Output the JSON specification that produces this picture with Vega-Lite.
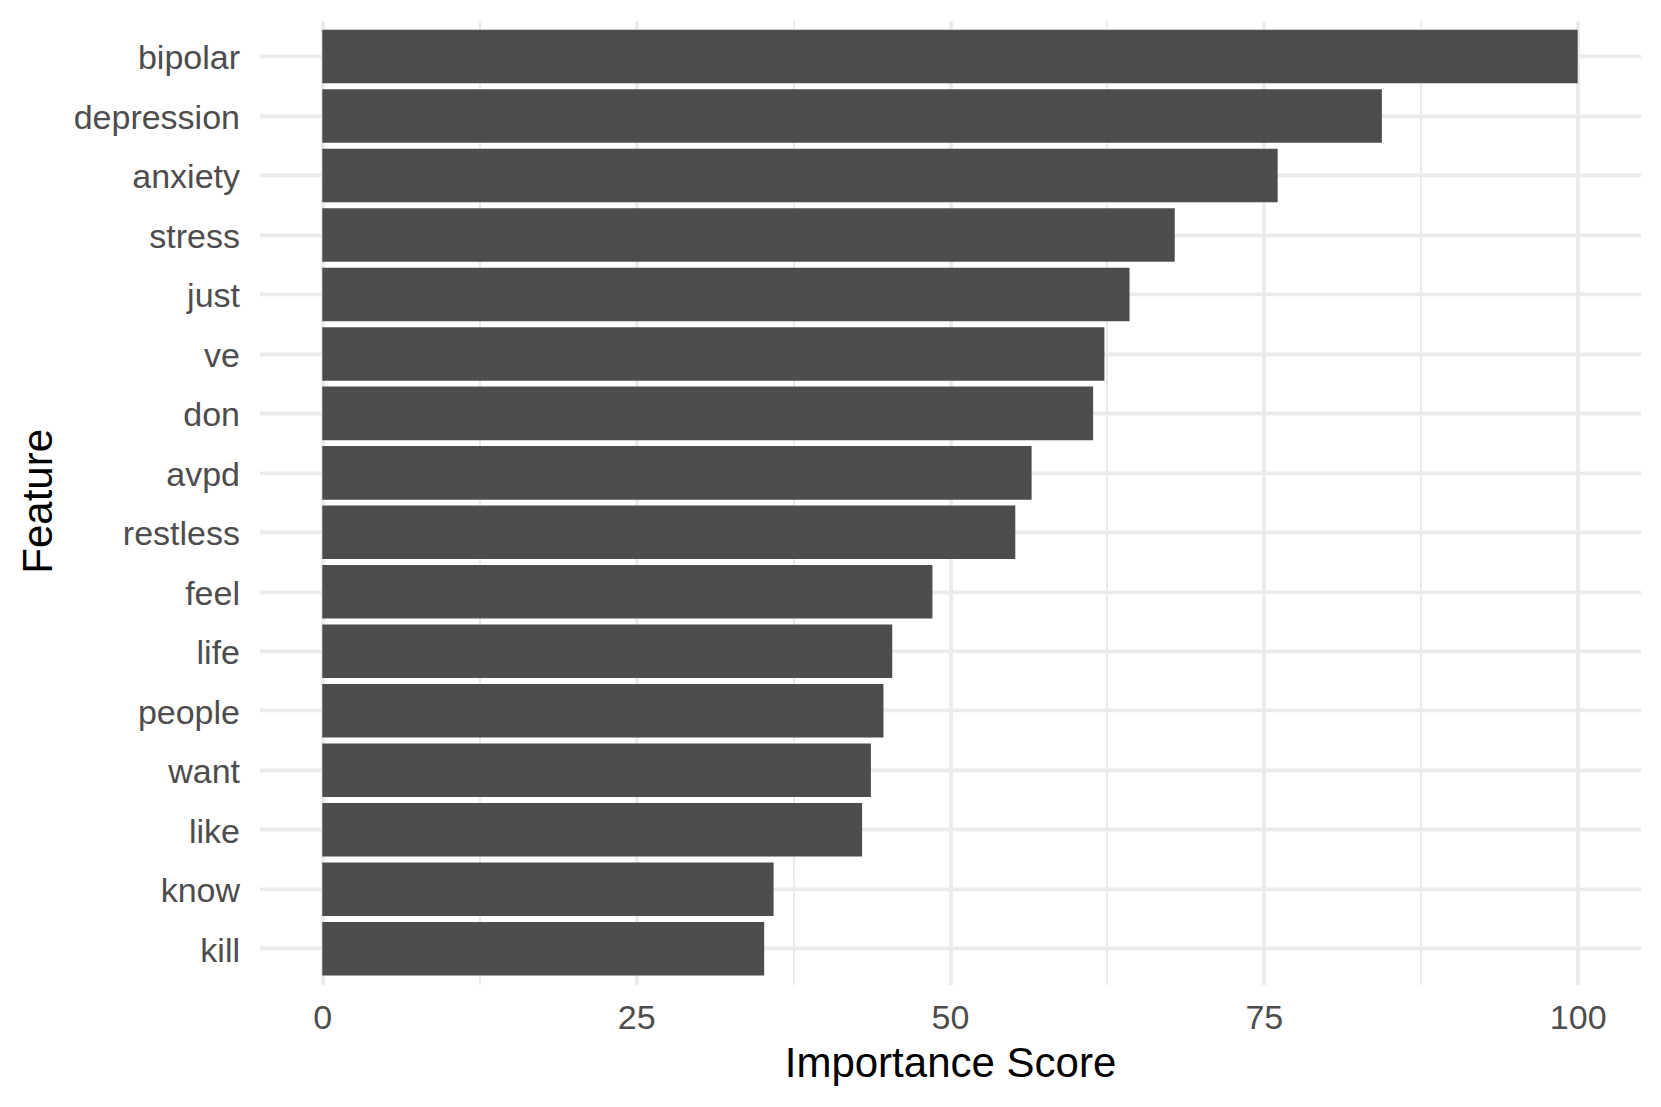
{
  "$schema": "https://vega.github.io/schema/vega-lite/v6.json",
  "width": 1381,
  "height": 963.6,
  "autosize": {"type": "none"},
  "padding": {"left": 259.5, "top": 20.8, "right": 20.5, "bottom": 122.6},
  "background": "white",
  "config": {
    "view": {"stroke": null},
    "font": "Liberation Sans",
    "axis": {
      "domain": false,
      "ticks": false,
      "labelFont": "Liberation Sans",
      "titleFont": "Liberation Sans",
      "labelColor": "#4D4D4D",
      "titleColor": "#000000",
      "titleFontWeight": "normal",
      "labelFontSize": 34,
      "titleFontSize": 42,
      "gridColor": "#EBEBEB"
    }
  },
  "data": {
    "values": [
      {"feature": "bipolar", "score": 100},
      {"feature": "depression", "score": 84.4},
      {"feature": "anxiety", "score": 76.1},
      {"feature": "stress", "score": 67.9},
      {"feature": "just", "score": 64.3},
      {"feature": "ve", "score": 62.3},
      {"feature": "don", "score": 61.4},
      {"feature": "avpd", "score": 56.5},
      {"feature": "restless", "score": 55.2},
      {"feature": "feel", "score": 48.6},
      {"feature": "life", "score": 45.4},
      {"feature": "people", "score": 44.7},
      {"feature": "want", "score": 43.7},
      {"feature": "like", "score": 43.0},
      {"feature": "know", "score": 35.95},
      {"feature": "kill", "score": 35.2}
    ]
  },
  "layer": [
    {
      "mark": {"type": "point", "opacity": 0},
      "encoding": {
        "x": {
          "field": "score",
          "type": "quantitative",
          "scale": {"domain": [-5, 105], "nice": false, "zero": false},
          "axis": {
            "orient": "top",
            "values": [12.5, 37.5, 62.5, 87.5],
            "labels": false,
            "title": null,
            "grid": true,
            "gridWidth": 2
          }
        }
      }
    },
    {
      "mark": {"type": "bar", "color": "#4D4D4D"},
      "encoding": {
        "y": {
          "field": "feature",
          "type": "nominal",
          "sort": "-x",
          "scale": {"paddingInner": 0.1, "paddingOuter": 0.15},
          "axis": {
            "title": "Feature",
            "grid": true,
            "gridWidth": 3.8,
            "bandPosition": 0.5,
            "labelPadding": 20,
            "labelOffset": 3,
            "titleAngle": -90,
            "titleBaseline": "alphabetic",
            "titleX": -207.8,
            "titleY": 480,
            "titleAlign": "center"
          }
        },
        "x": {
          "field": "score",
          "type": "quantitative",
          "scale": {"domain": [-5, 105], "nice": false, "zero": false},
          "axis": {
            "orient": "bottom",
            "values": [0, 25, 50, 75, 100],
            "title": "Importance Score",
            "grid": true,
            "gridWidth": 3.8,
            "labelBaseline": "alphabetic",
            "labelPadding": 43.6,
            "titleBaseline": "alphabetic",
            "titleY": 92.3
          }
        }
      }
    }
  ],
  "resolve": {"axis": {"x": "independent"}}
}
